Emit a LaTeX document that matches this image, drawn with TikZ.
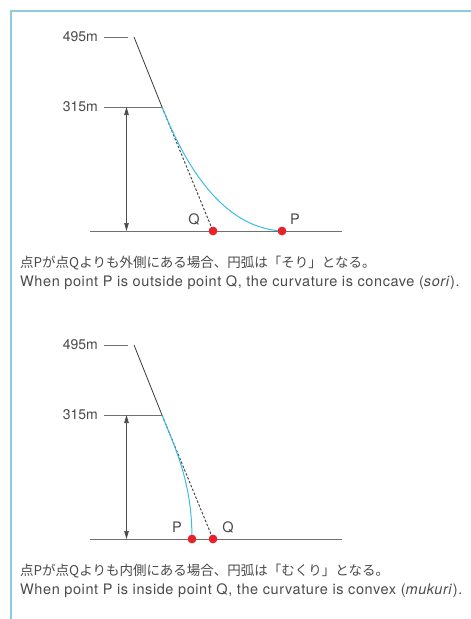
\documentclass[tikz,border=0pt]{standalone}
\usepackage{fontspec}
\setmainfont{TeX Gyre Heros}
\newfontfamily\jp{Noto Sans CJK JP}
\newfontfamily\enfont[LetterSpace=4]{TeX Gyre Heros}
\usetikzlibrary{arrows.meta}
\definecolor{framecol}{HTML}{8FCBDD}
\definecolor{txt}{HTML}{4A4A4A}
\definecolor{arcblue}{HTML}{3DBBE8}
\definecolor{dotred}{HTML}{E8222B}
\definecolor{basegray}{HTML}{707070}
\tikzset{
  lbl/.style={font=\fontsize{14}{16}\selectfont, text=txt, inner sep=0pt},
  ptlbl/.style={font=\fontsize{14.5}{16}\selectfont, text=txt, inner sep=0pt},
  jptext/.style={font=\jp\fontsize{13.5}{16}\selectfont, text=txt, inner sep=0pt, anchor=west},
  entext/.style={font=\enfont\fontsize{14.5}{18}\selectfont, text=txt, inner sep=0pt, anchor=west},
  tick/.style={draw=basegray, line width=0.8pt},
  slope/.style={draw=txt, line width=0.9pt},
  dashline/.style={draw=txt, line width=1pt, dash pattern=on 2.4pt off 1.8pt},
  arcline/.style={draw=arcblue, line width=1pt},
  baseline/.style={draw=basegray, line width=1pt},
  dim/.style={draw=txt, line width=0.7pt, {Triangle[width=4.5pt,length=8pt]}-{Triangle[width=4.5pt,length=8pt]}},
  dot/.style={circle, fill=dotred, minimum size=8.5pt, inner sep=0pt},
  frameline/.style={draw=framecol, line width=1.8pt}
}
\begin{document}
\begin{tikzpicture}[x=1pt,y=-1pt]
\useasboundingbox (0,0) rectangle (471,619);
% frame
\coordinate (fl) at (11,619);
\coordinate (fc) at (11,11);
\coordinate (fr) at (471,11);
\draw[frameline] (fl) -- (fc) -- (fr);

% ===== top diagram =====
\begin{scope}
\node[lbl, anchor=east] (t495) at (98,37) {495m};
\node[lbl, anchor=east] (t315) at (98,107) {315m};
\coordinate (t495a) at (104,37);
\coordinate (t495b) at (128,37);
\coordinate (ttop) at (134,37);
\coordinate (tA) at (162,107);
\coordinate (t315a) at (104,107);
\coordinate (tdimt) at (126.5,107);
\coordinate (tdimb) at (126.5,231);
\coordinate (tbl) at (90,231);
\coordinate (tbr) at (342,231);
\node[dot] (tQ) at (213,231) {};
\node[dot] (tP) at (282,231) {};
\node[ptlbl] (tQl) at (194,219) {Q};
\node[ptlbl] (tPl) at (295,219) {P};
\draw[tick] (t495a) -- (t495b);
\draw[tick] (t315a) -- (tA);
\draw[baseline] (tbl) -- (tbr);
\draw[dim] (tdimt) -- (tdimb);
\draw[slope] (ttop) -- (tA);
\draw[dashline] (tA) -- (tQ.center);
\draw[arcline] (tA) .. controls (190,177) and (228,228) .. (tP.center);
\node[dot] at (tQ) {};
\node[dot] at (tP) {};
\node[jptext] (tj) at (20,263) {点Pが点Qよりも外側にある場合、円弧は「そり」となる。};
\node[entext] (te) at (20,283) {When point P is outside point Q, the curvature is concave (\textit{sori}).};
\end{scope}

% ===== bottom diagram =====
\begin{scope}[yshift=-308pt]
\node[lbl, anchor=east] (b495) at (98,37) {495m};
\node[lbl, anchor=east] (b315) at (98,107) {315m};
\coordinate (b495a) at (104,37);
\coordinate (b495b) at (128,37);
\coordinate (btop) at (134,37);
\coordinate (bA) at (162,107);
\coordinate (b315a) at (104,107);
\coordinate (bdimt) at (126.5,107);
\coordinate (bdimb) at (126.5,231);
\coordinate (bbl) at (90,231);
\coordinate (bbr) at (342,231);
\node[dot] (bQ) at (213,231) {};
\node[dot] (bP) at (192,231) {};
\node[ptlbl] (bPl) at (177,219) {P};
\node[ptlbl] (bQl) at (228,219) {Q};
\draw[tick] (b495a) -- (b495b);
\draw[tick] (b315a) -- (bA);
\draw[baseline] (bbl) -- (bbr);
\draw[dim] (bdimt) -- (bdimb);
\draw[slope] (btop) -- (bA);
\draw[dashline] (bA) -- (bQ.center);
\draw[arcline] (bA) .. controls (176,142) and (192,175) .. (bP.center);
\node[dot] at (bQ) {};
\node[dot] at (bP) {};
\node[jptext] (bj) at (20,263) {点Pが点Qよりも内側にある場合、円弧は「むくり」となる。};
\node[entext] (be) at (20,283) {When point P is inside point Q, the curvature is convex (\textit{mukuri}).};
\end{scope}
\end{tikzpicture}
\end{document}
